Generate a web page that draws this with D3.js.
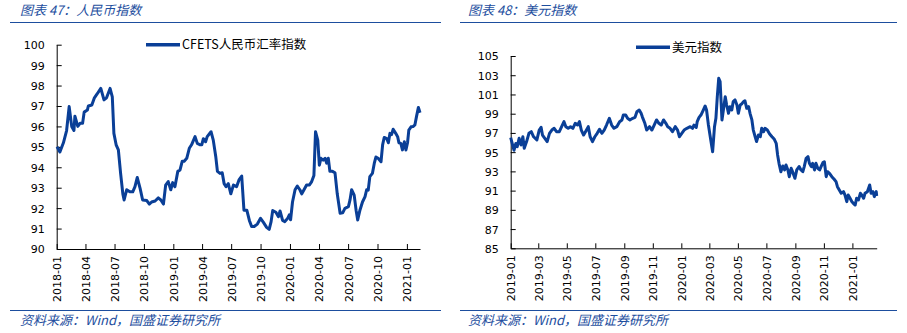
<!DOCTYPE html>
<html>
<head>
<meta charset="utf-8">
<script src="https://cdn.jsdelivr.net/npm/d3@7"></script>
<style>
  html, body { margin: 0; padding: 0; background: #fff; }
  svg { display: block; }
  .tick text { font-family: "DejaVu Sans", Verdana, sans-serif; font-size: 11px; fill: #000; }
  .domain, .tick line { stroke: #000; stroke-width: 1; }
</style>
</head>
<body>
<svg id="chart" width="907" height="333"></svg>
<script>
// CFETS RMB index (weekly-ish readings)
const cnyDates = [
  "2018-01-02","2018-01-11","2018-01-22","2018-02-01","2018-02-09","2018-02-17","2018-02-24","2018-02-27",
  "2018-03-08","2018-03-15","2018-03-23","2018-03-28","2018-04-07","2018-04-10","2018-04-21","2018-04-29",
  "2018-05-08","2018-05-19","2018-05-29","2018-06-06","2018-06-17","2018-06-24","2018-06-29","2018-07-06",
  "2018-07-13","2018-07-20","2018-07-27","2018-07-31","2018-08-08","2018-08-18","2018-08-27","2018-09-03",
  "2018-09-10","2018-09-19","2018-09-27","2018-10-10","2018-10-18","2018-10-25","2018-11-05","2018-11-15",
  "2018-11-23","2018-12-01","2018-12-08","2018-12-16","2018-12-24","2018-12-30","2019-01-06","2019-01-15",
  "2019-01-22","2019-01-29","2019-02-04","2019-02-12","2019-02-20","2019-02-27","2019-03-10","2019-03-17",
  "2019-03-25","2019-03-31","2019-04-05","2019-04-12","2019-04-17","2019-04-29","2019-05-06","2019-05-14",
  "2019-05-19","2019-05-27","2019-06-03","2019-06-09","2019-06-15","2019-06-22","2019-06-30","2019-07-08",
  "2019-07-18","2019-07-26","2019-08-03","2019-08-10","2019-08-19","2019-08-27","2019-09-03","2019-09-11",
  "2019-09-21","2019-10-01","2019-10-10","2019-10-20","2019-10-28","2019-11-03","2019-11-08","2019-11-18",
  "2019-11-26","2019-12-01","2019-12-09","2019-12-16","2019-12-25","2019-12-30","2020-01-03","2020-01-09",
  "2020-01-17","2020-01-24","2020-02-01","2020-02-07","2020-02-14","2020-02-22","2020-03-02","2020-03-09",
  "2020-03-16","2020-03-21","2020-03-28","2020-04-02","2020-04-07","2020-04-14","2020-04-20","2020-04-25",
  "2020-04-30","2020-05-05","2020-05-13","2020-05-21","2020-05-28","2020-06-06","2020-06-14","2020-06-21",
  "2020-07-02","2020-07-07","2020-07-12","2020-07-20","2020-07-26","2020-07-31","2020-08-07","2020-08-15",
  "2020-08-23","2020-08-28","2020-09-02","2020-09-07","2020-09-15","2020-09-21","2020-09-26","2020-10-03",
  "2020-10-12","2020-10-17","2020-10-22","2020-10-30","2020-11-04","2020-11-09","2020-11-14","2020-11-19",
  "2020-11-27","2020-12-03","2020-12-07","2020-12-13","2020-12-18","2020-12-24","2020-12-29","2021-01-03",
  "2021-01-07","2021-01-14","2021-01-21","2021-01-26","2021-01-31","2021-02-06","2021-02-11"
];
const cnyValues = [
  95.0,94.75,95.2,95.8,96.97,96.0,95.8,96.5,
  96.0,96.15,96.15,96.7,96.8,97.0,97.05,97.4,
  97.6,97.86,97.3,97.4,97.86,97.45,95.66,95.1,
  94.85,93.7,92.7,92.4,92.9,92.8,92.8,93.05,
  93.5,92.97,92.4,92.37,92.2,92.3,92.35,92.5,
  92.4,92.2,93.13,93.3,92.9,93.25,93.05,93.8,
  93.87,94.3,94.3,94.44,94.93,95.1,95.5,95.17,
  95.1,95.1,95.4,95.25,95.5,95.74,95.33,94.5,
  93.8,93.7,93.73,93.2,93.05,93.2,92.7,93.13,
  93.05,93.4,93.57,91.9,91.9,91.4,91.1,91.1,
  91.22,91.5,91.3,91.06,90.96,91.34,91.88,91.8,
  91.58,91.86,91.4,91.34,91.5,91.67,91.43,92.3,
  92.9,93.08,92.9,92.7,92.9,93.13,93.13,93.3,
  93.6,95.74,95.33,94.1,94.44,94.35,94.44,94.2,
  94.44,93.8,93.8,93.73,92.7,91.75,91.77,91.99,
  92.07,92.4,92.9,92.64,91.9,91.42,91.9,92.3,
  92.56,92.9,92.88,93.54,93.7,94.2,94.5,94.44,
  94.27,95.1,95.46,95.4,95.2,95.66,95.6,95.86,
  95.66,95.5,95.2,95.17,94.85,95.25,94.85,95.2,
  95.82,95.98,96.0,96.07,96.48,96.93,96.67
];

// US dollar index
const usdDates = [
  "2019-01-01","2019-01-05","2019-01-08","2019-01-12","2019-01-15","2019-01-19","2019-01-23","2019-01-27",
  "2019-01-30","2019-02-04","2019-02-09","2019-02-14","2019-02-19","2019-02-26","2019-03-03","2019-03-07",
  "2019-03-10","2019-03-15","2019-03-20","2019-03-25","2019-03-30","2019-04-04","2019-04-09","2019-04-15",
  "2019-04-20","2019-04-25","2019-04-29","2019-05-04","2019-05-09","2019-05-14","2019-05-19","2019-05-24",
  "2019-05-28","2019-06-01","2019-06-06","2019-06-10","2019-06-16","2019-06-20","2019-06-25","2019-06-30",
  "2019-07-05","2019-07-10","2019-07-15","2019-07-20","2019-07-25","2019-07-31","2019-08-05","2019-08-10",
  "2019-08-16","2019-08-22","2019-08-27","2019-08-30","2019-09-04","2019-09-08","2019-09-13","2019-09-19",
  "2019-09-24","2019-09-28","2019-10-03","2019-10-07","2019-10-10","2019-10-15","2019-10-19","2019-10-25",
  "2019-10-30","2019-11-04","2019-11-09","2019-11-14","2019-11-19","2019-11-24","2019-11-29","2019-12-03",
  "2019-12-08","2019-12-13","2019-12-19","2019-12-24","2019-12-28","2020-01-02","2020-01-07","2020-01-13",
  "2020-01-20","2020-01-25","2020-01-28","2020-02-02","2020-02-04","2020-02-08","2020-02-12","2020-02-17",
  "2020-02-21","2020-02-24","2020-02-28","2020-03-04","2020-03-08","2020-03-12","2020-03-15","2020-03-18",
  "2020-03-21","2020-03-24","2020-03-28","2020-03-31","2020-04-04","2020-04-07","2020-04-11","2020-04-14",
  "2020-04-18","2020-04-21","2020-04-25","2020-04-29","2020-05-02","2020-05-06","2020-05-09","2020-05-13",
  "2020-05-16","2020-05-20","2020-05-24","2020-05-27","2020-05-31","2020-06-03","2020-06-07","2020-06-10",
  "2020-06-14","2020-06-18","2020-06-21","2020-06-25","2020-06-28","2020-07-03","2020-07-08","2020-07-13",
  "2020-07-18","2020-07-22","2020-07-25","2020-07-28","2020-08-01","2020-08-05","2020-08-09","2020-08-12",
  "2020-08-16","2020-08-19","2020-08-23","2020-08-26","2020-08-31","2020-09-04","2020-09-09","2020-09-13",
  "2020-09-17","2020-09-20","2020-09-24","2020-09-28","2020-10-01","2020-10-05","2020-10-08","2020-10-12",
  "2020-10-15","2020-10-19","2020-10-23","2020-10-26","2020-10-30","2020-11-02","2020-11-06","2020-11-09",
  "2020-11-13","2020-11-18","2020-11-23","2020-11-27","2020-11-30","2020-12-04","2020-12-08","2020-12-13",
  "2020-12-16","2020-12-20","2020-12-23","2020-12-27","2020-12-31","2021-01-03","2021-01-07","2021-01-10",
  "2021-01-14","2021-01-18","2021-01-21","2021-01-25","2021-01-28","2021-02-02","2021-02-07","2021-02-10",
  "2021-02-14","2021-02-17","2021-02-21","2021-02-22"
];
const usdValues = [
  96.5,95.75,95.2,95.9,95.57,96.44,95.75,96.6,
  95.4,96.1,96.96,97.13,96.6,96.27,97.3,97.58,
  96.78,96.44,96.1,96.96,97.3,97.48,97.13,97.13,
  97.65,98.17,97.65,97.48,97.65,97.48,98.0,97.82,
  98.17,97.3,96.78,97.13,97.65,96.6,96.1,96.6,
  96.96,97.37,96.96,97.3,97.82,98.52,97.82,97.48,
  97.65,98.17,98.35,98.86,98.86,98.52,98.35,98.52,
  98.62,99.2,99.38,99.04,98.62,98.0,97.3,97.65,
  97.3,97.82,98.35,98.0,97.82,98.35,98.0,97.65,
  97.48,97.13,97.65,97.3,96.6,96.96,97.3,97.48,
  97.65,97.48,97.82,97.58,98.17,98.62,98.86,99.38,
  99.8,99.38,97.82,96.27,95.05,97.65,98.52,100.77,
  102.68,102.33,98.35,99.38,100.77,99.9,99.04,99.73,
  99.38,100.25,100.43,99.9,99.04,99.9,100.0,100.25,
  100.35,99.56,99.73,99.04,98.35,97.3,96.6,96.1,
  96.78,96.6,97.48,97.13,97.48,97.3,96.89,96.6,
  96.33,95.92,94.71,93.84,92.97,93.56,93.15,93.67,
  93.15,92.45,93.32,92.97,92.28,93.15,93.5,93.15,
  92.97,93.5,94.36,94.53,93.84,93.5,93.84,93.15,
  93.84,93.32,93.15,93.5,93.91,94.0,92.45,92.97,
  92.8,92.45,92.18,91.93,91.41,91.07,90.72,90.89,
  90.55,89.85,90.55,90.2,89.85,89.68,89.5,90.2,
  90.03,90.72,90.55,90.2,90.72,90.89,91.59,90.72,
  90.89,90.37,90.89,90.44
];

const cnyTicksY = [90, 91, 92, 93, 94, 95, 96, 97, 98, 99, 100];
const usdTicksY = [85, 87, 89, 91, 93, 95, 97, 99, 101, 103, 105];

const lineColor = "#0a3f97";
const accent = "#1d4e9e";
const parse = d3.timeParse("%Y-%m-%d");
const fmt = d3.timeFormat("%Y-%m");

const svg = d3.select("#chart");

function panel(opts) {
  const g = svg.append("g");
  const data = opts.dates.map((d, i) => ({ date: parse(d), value: opts.values[i] }));

  // header and footer
  g.append("text")
    .attr("x", opts.titleX).attr("y", 14.5)
    .attr("font-family", "'Noto Sans CJK SC', sans-serif")
    .attr("font-size", 13).attr("font-style", "italic")
    .attr("fill", accent)
    .text(opts.title);
  g.append("line")
    .attr("x1", opts.ruleX0).attr("x2", opts.ruleX1)
    .attr("y1", 22.5).attr("y2", 22.5)
    .attr("stroke", accent).attr("stroke-width", 1.2);
  g.append("line")
    .attr("x1", opts.ruleX0).attr("x2", opts.ruleX1)
    .attr("y1", 310.5).attr("y2", 310.5)
    .attr("stroke", accent).attr("stroke-width", 1.2);
  g.append("text")
    .attr("x", opts.titleX).attr("y", 325)
    .attr("font-family", "'Noto Sans CJK SC', sans-serif")
    .attr("font-size", 13).attr("font-style", "italic")
    .attr("fill", accent)
    .text("资料来源：Wind，国盛证券研究所");

  const x = d3.scaleTime().domain([parse(opts.start), parse(opts.end)]).range([opts.x0, opts.x1]);
  const y = d3.scaleLinear().domain([opts.yTicks[0], opts.yTicks[opts.yTicks.length - 1]]).range([opts.y0, opts.y1]);

  const yAxis = d3.axisLeft(y).tickValues(opts.yTicks).tickFormat(d3.format("d"))
    .tickSizeInner(-5).tickSizeOuter(0).tickPadding(12);
  g.append("g").attr("transform", `translate(${opts.x0},0)`).call(yAxis)
    .selectAll(".tick text").attr("dy", "0.36em");

  const xTicks = d3.timeMonth.every(opts.monthStep).range(parse(opts.start), d3.timeDay.offset(parse(opts.end), 1));
  const xAxis = d3.axisBottom(x).tickValues(xTicks).tickFormat(fmt)
    .tickSizeInner(-5).tickSizeOuter(0);
  const xg = g.append("g").attr("transform", `translate(0,${opts.y0})`).call(xAxis);
  xg.selectAll(".tick text")
    .attr("transform", "rotate(-90)")
    .attr("text-anchor", "end")
    .attr("x", -7).attr("y", 0).attr("dy", "0.36em");

  const line = d3.line().x(d => x(d.date)).y(d => y(d.value)).curve(d3.curveLinear);
  g.append("path").datum(data)
    .attr("fill", "none").attr("stroke", lineColor)
    .attr("stroke-width", 3).attr("stroke-linejoin", "round")
    .attr("d", line);

  // legend
  g.append("line")
    .attr("x1", opts.legX).attr("x2", opts.legX + 34)
    .attr("y1", opts.legY).attr("y2", opts.legY)
    .attr("stroke", lineColor).attr("stroke-width", 3.5);
  g.append("text")
    .attr("x", opts.legX + 36).attr("y", opts.legY).attr("dy", "0.36em")
    .attr("font-family", "'Noto Sans CJK SC', sans-serif")
    .attr("font-size", 12.5).attr("fill", "#000")
    .text(opts.legend);
}

panel({
  title: "图表 47：人民币指数", titleX: 20, ruleX0: 10, ruleX1: 441,
  dates: cnyDates, values: cnyValues, yTicks: cnyTicksY,
  start: "2018-01-01", end: "2021-02-11", monthStep: 3,
  x0: 56.7, x1: 420, y0: 249, y1: 44.7,
  legX: 146, legY: 44.7, legend: "CFETS人民币汇率指数"
});

panel({
  title: "图表 48：美元指数", titleX: 468, ruleX0: 460, ruleX1: 897,
  dates: usdDates, values: usdValues, yTicks: usdTicksY,
  start: "2019-01-01", end: "2021-02-22", monthStep: 2,
  x0: 510.7, x1: 876.7, y0: 248.3, y1: 56,
  legX: 636, legY: 47.3, legend: "美元指数"
});
</script>
</body>
</html>
